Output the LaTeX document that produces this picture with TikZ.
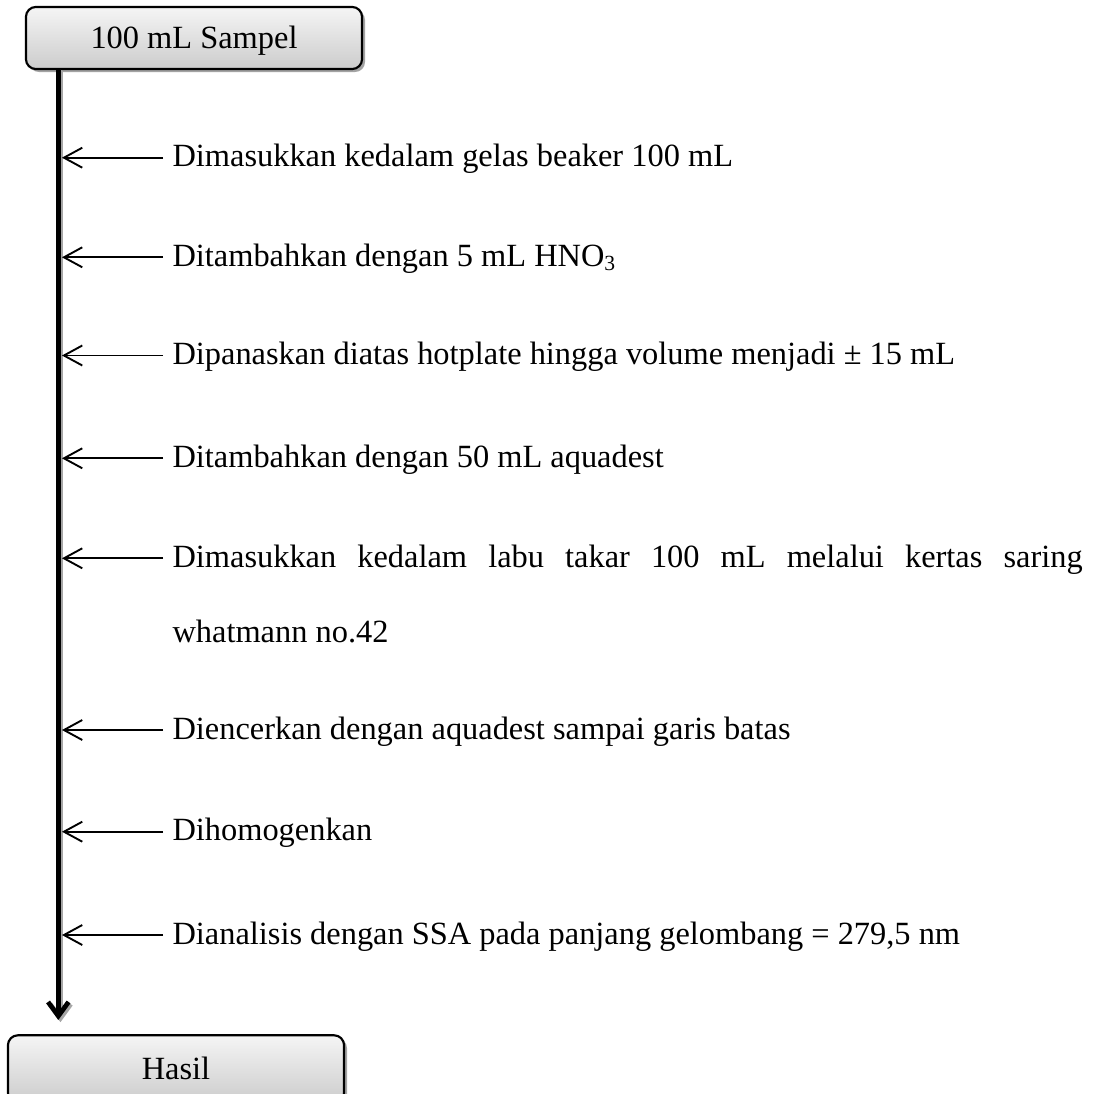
\documentclass[tikz,border=0pt]{standalone}
\usepackage{fontspec}
\setmainfont{Liberation Serif}
\usetikzlibrary{arrows.meta,shadows}
\begin{document}
\begin{tikzpicture}[x=0.3704pt,y=-0.3704pt,
  procbox/.style={draw=black,line width=0.8pt,rounded corners=3.7pt,
    top color=gray!8,bottom color=gray!40,
    drop shadow={shadow xshift=1.1pt,shadow yshift=-1.1pt,fill=black!45,opacity=0.8},
    minimum width=124.5pt,minimum height=23pt,inner sep=0pt,
    text height=7.9pt,text depth=0pt,font=\fontsize{12}{14}\selectfont},
  steptext/.style={anchor=base west,inner sep=0pt,font=\fontsize{12}{14}\selectfont},
  smallarr/.style={-{Straight Barb[length=6.8pt,width=7.4pt]},line width=0.7pt},
  spinearr/.style={-{Straight Barb[length=5.2pt,width=7.6pt]},line width=1.75pt}]
\useasboundingbox (0,0) rectangle (1093,1094);
% boxes
\node[procbox] (sampel) at (194,38) {100 mL Sampel};
\node[procbox,minimum height=25pt] (hasil) at (176,1069) {Hasil};
% spine
\coordinate (spine) at (58.3,0);
\coordinate (tip) at (58.3,1020);
\draw[spinearr,black!35,line cap=round] ([xshift=0.8pt,yshift=-0.8pt]sampel.south -| spine) -- ([xshift=0.8pt,yshift=-0.8pt]tip);
\draw[spinearr] (sampel.south -| spine) -- (tip);
% step coordinates
\coordinate (a1) at (163,157.7);
\coordinate (a2) at (163,257.3);
\coordinate (a3) at (163,355.5);
\coordinate (a4) at (163,458.3);
\coordinate (a5) at (163,558.3);
\coordinate (a6) at (163,730);
\coordinate (a7) at (163,831.7);
\coordinate (a8) at (163,935);
% texts
\node[steptext] (t1) at (172,166.5) {Dimasukkan kedalam gelas beaker 100 mL};
\node[steptext] (t2) at (172,266) {Ditambahkan dengan 5 mL HNO\textsubscript{3}};
\node[steptext] (t3) at (172,364) {Dipanaskan diatas hotplate hingga volume menjadi ± 15 mL};
\node[steptext] (t4) at (172,467) {Ditambahkan dengan 50 mL aquadest};
\node[steptext] (t5) at (172,567) {\makebox[337.1pt][s]{Dimasukkan kedalam labu takar 100 mL melalui kertas saring}};
\node[steptext] (t5b) at (172,642) {whatmann no.42};
\node[steptext] (t6) at (172,739) {Diencerkan dengan aquadest sampai garis batas};
\node[steptext] (t7) at (172,840.5) {Dihomogenkan};
\node[steptext] (t8) at (172,944) {Dianalisis dengan SSA pada panjang gelombang = 279,5 nm};
% small arrows
\foreach \i in {1,...,8}{
  \draw[smallarr] (a\i) -- ([xshift=1.35pt]a\i -| spine);
}
\end{tikzpicture}
\end{document}
